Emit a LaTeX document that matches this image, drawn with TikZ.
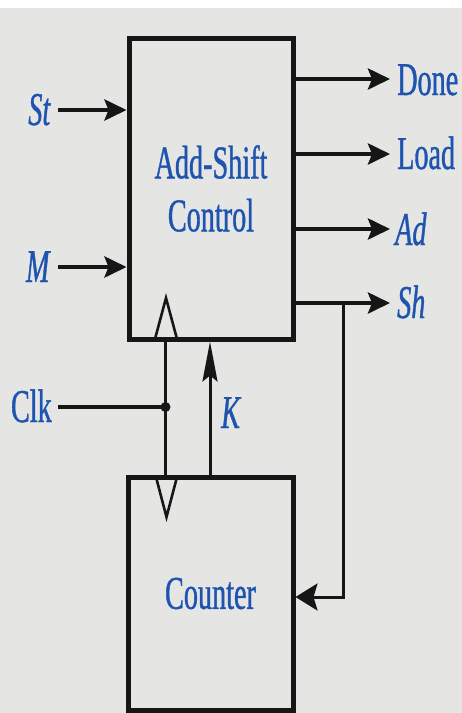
\documentclass[tikz,border=0pt]{standalone}
\usepackage{fontspec}
\setmainfont{Liberation Serif}[FakeStretch=0.6,FakeBold=0.8]
\usetikzlibrary{arrows.meta}
\definecolor{bgc}{RGB}{229,229,227}
\definecolor{txt}{RGB}{30,84,176}
\definecolor{ink}{RGB}{22,22,22}
\tikzset{
  blk/.style={draw=ink, line width=5pt, inner sep=0pt, font=\fontsize{47}{53}\selectfont, text=txt, align=center},
  lbl/.style={inner sep=0pt, font=\fontsize{47}{53}\selectfont, text=txt},
  hsig/.style={draw=ink, line width=4.2pt, -{Stealth[length=22pt,width=21pt,inset=4pt]}},
  vsig/.style={draw=ink, line width=3pt},
  ksig/.style={draw=ink, line width=3pt, -{Stealth[length=40pt,width=15pt,inset=6pt]}},
  clkline/.style={draw=ink, line width=4.2pt},
  tri/.style={draw=ink, line width=2.6pt, line join=miter}
}
\begin{document}
\begin{tikzpicture}[x=1pt,y=-1pt]
\useasboundingbox (0,0) rectangle (462,713);
\fill[white] (0,0) rectangle (462,713);
\fill[bgc] (0,8) rectangle (462,713);
% blocks
\node[blk, minimum width=164pt, minimum height=301pt] (ctrl) at (211,188.5) {Add-Shift\\Control};
\node[blk, minimum width=165pt, minimum height=233pt] (cnt) at (210.5,593.5) {Counter};
% input labels
\node[lbl, anchor=base east] (st) at (51,125) {\textit{St}};
\node[lbl, anchor=base east] (m) at (51,282) {\textit{M}};
\node[lbl, anchor=base east] (clk) at (52,422) {Clk};
\node[lbl, anchor=base west] (k) at (221,428) {\textit{K}};
% output labels
\node[lbl, anchor=base west] (done) at (397,95) {Done};
\node[lbl, anchor=base west] (load) at (397,169) {Load};
\node[lbl, anchor=base west] (ad) at (395,245) {\textit{Ad}};
\node[lbl, anchor=base west] (sh) at (397,318) {\textit{Sh}};
% connector coordinates
\coordinate (stin) at (58,110);
\coordinate (min) at (58,267);
\coordinate (pdone) at (390,79);
\coordinate (pload) at (390,154);
\coordinate (pad) at (390,229);
\coordinate (psh) at (390,303);
\coordinate (br) at (343,303);
\coordinate (cin) at (293,597);
\coordinate (clkin) at (58,407);
\coordinate (ck) at (165.5,407);
\coordinate (kx) at (210,407);
% inputs
\draw[hsig] (stin) -- (stin -| ctrl.west);
\draw[hsig] (min) -- (min -| ctrl.west);
% outputs
\draw[hsig] (ctrl.east |- pdone) -- (pdone);
\draw[hsig] (ctrl.east |- pload) -- (pload);
\draw[hsig] (ctrl.east |- pad) -- (pad);
\draw[hsig] (ctrl.east |- psh) -- (psh);
% Sh feedback to counter
\draw[vsig, -{Stealth[length=22pt,width=27pt,inset=4pt]}] (br) -- (br |- cin) -- (cin -| cnt.east);
% clock
\draw[vsig] (ck |- ctrl.south) -- (ck |- cnt.north);
\draw[clkline] (clkin) -- (ck);
\fill[ink] (ck) circle (5pt);
% clock triangles
\draw[tri] (155,339) -- (166,298) -- (177,339);
\draw[tri] (156,477) -- (166.5,517) -- (177,477);
% K
\draw[ksig] (kx |- cnt.north) -- (kx |- ctrl.south);
\end{tikzpicture}
\end{document}
